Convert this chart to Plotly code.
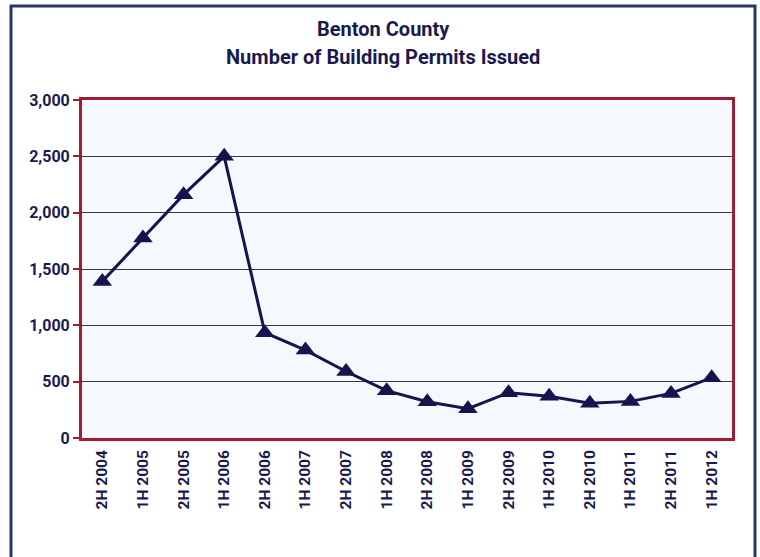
import plotly.graph_objects as go

# Half-year periods and permit counts
periods = ["2H 2004", "1H 2005", "2H 2005", "1H 2006", "2H 2006", "1H 2007",
           "2H 2007", "1H 2008", "2H 2008", "1H 2009", "2H 2009", "1H 2010",
           "2H 2010", "1H 2011", "2H 2011", "1H 2012"]
permits = [1390, 1775, 2160, 2500, 935, 780, 590, 420, 322, 260,
           402, 370, 308, 325, 396, 535]
y_ticks = [0, 500, 1000, 1500, 2000, 2500, 3000]
title_lines = ["Benton County", "Number of Building Permits Issued"]

NAVY = "#16134d"
LABEL = "#1b1a4f"
RED = "#a31a35"
FONT = "Roboto"

# Plot-area geometry in pixels
W, H = 760, 557
L, R, T, B = 82, 28, 100, 119
pw, ph = W - L - R, H - T - B

def px_x(x):
    return (x - L) / pw

def px_y(y):
    return (H - B - y) / ph

fig = go.Figure()
fig.add_trace(go.Scatter(
    x=periods, y=permits, mode="lines+markers",
    line=dict(color=NAVY, width=3),
    marker=dict(symbol="triangle-up", size=17, color=NAVY),
    cliponaxis=False, hoverinfo="x+y",
))

# Outer chart frame
fig.add_shape(type="rect", xref="paper", yref="paper",
              x0=px_x(11), x1=px_x(755), y0=px_y(600), y1=px_y(6),
              line=dict(color="#2b3466", width=3), layer="below")

# Two-line heading
for text, ypix in zip(title_lines, [29, 57]):
    fig.add_annotation(
        text=text, xref="paper", yref="paper",
        x=px_x(383), y=px_y(ypix), xanchor="center", yanchor="middle",
        showarrow=False,
        font=dict(family=FONT, size=20, color=LABEL, weight="bold"),
    )

fig.update_layout(
    width=W, height=H,
    margin=dict(l=L, r=R, t=T, b=B),
    paper_bgcolor="white",
    plot_bgcolor="#f5f8fd",
    showlegend=False,
    font=dict(family=FONT, color=LABEL),
)

fig.update_xaxes(
    type="category", tickangle=-90,
    tickfont=dict(family=FONT, size=15.5, color=LABEL, weight="bold"),
    showgrid=False, ticks="", ticklabelstandoff=3,
    showline=True, linecolor=RED, linewidth=3, mirror=True,
    range=[-0.5, len(periods) - 0.5],
)
fig.update_yaxes(
    range=[0, 3000], tickvals=y_ticks, tickformat=",",
    tickfont=dict(family=FONT, size=16, color=LABEL, weight="bold"),
    showgrid=True, gridcolor="#3a3a3a", gridwidth=1,
    ticks="outside", ticklen=6, tickcolor=RED, tickwidth=2,
    showline=True, linecolor=RED, linewidth=3, mirror=True,
    zeroline=False,
)

fig.write_html("out.html")
